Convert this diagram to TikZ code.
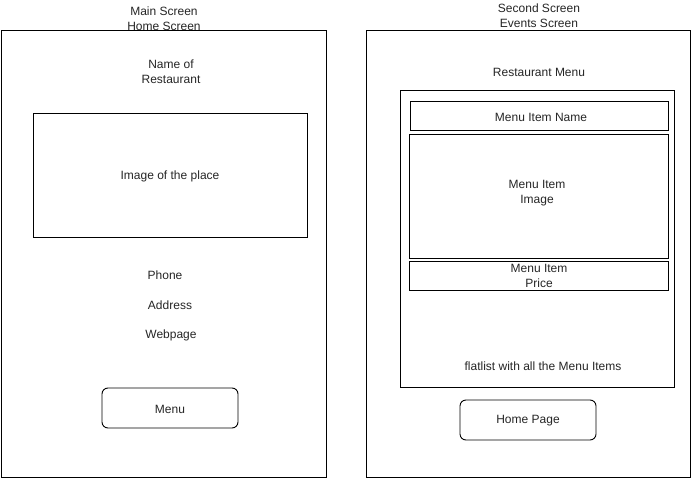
\documentclass[tikz,border=0pt]{standalone}
\usepackage{fontspec}
\setmainfont{Liberation Sans}
\begin{document}
\begin{tikzpicture}[x=1pt,y=-1pt,
  box/.style={draw=black,line width=0.9pt},
  btn/.style={draw=black,line width=0.9pt,rounded corners=6pt},
  lbl/.style={font=\fontsize{12}{15}\selectfont,text=black!85,align=center,inner sep=0pt}]
\useasboundingbox (0,0) rectangle (692,478);
\fill[white] (0,0) rectangle (692,478);
% left screen
\draw[box] (1,30) rectangle (326,477);
\node[lbl] (t1) at (164,19) {Main Screen\\Home Screen};
\node[lbl] (name) at (171,72) {Name of\\Restaurant};
\draw[box] (33,113) rectangle (307,237);
\node[lbl] (img) at (170,176) {Image of the place};
\node[lbl] (phone) at (165,275) {Phone};
\node[lbl] (addr) at (170,305) {Address};
\node[lbl] (web) at (171,335) {Webpage};
\draw[btn] (102,388) rectangle (238,428);
\node[lbl] (menu) at (170,409) {Menu};
% right screen
\draw[box] (366,30) rectangle (690,477);
\node[lbl] (t2) at (539,16) {Second Screen\\Events Screen};
\node[lbl] (rm) at (539,72) {Restaurant Menu};
\draw[box] (400,90) rectangle (674,387);
\draw[box] (410,101) rectangle (668,130);
\node[lbl] (min) at (541,117) {Menu Item Name};
\draw[box] (409,134) rectangle (668,258);
\node[lbl] (mii) at (537,193) {Menu Item\\Image};
\draw[box] (409,261) rectangle (668,290);
\node[lbl] (mip) at (539,276) {Menu Item\\Price};
\node[lbl] (fl) at (543,366) {flatlist with all the Menu Items};
\draw[btn] (460,400) rectangle (596,440);
\node[lbl] (hp) at (528,421) {Home Page};
\end{tikzpicture}
\end{document}
